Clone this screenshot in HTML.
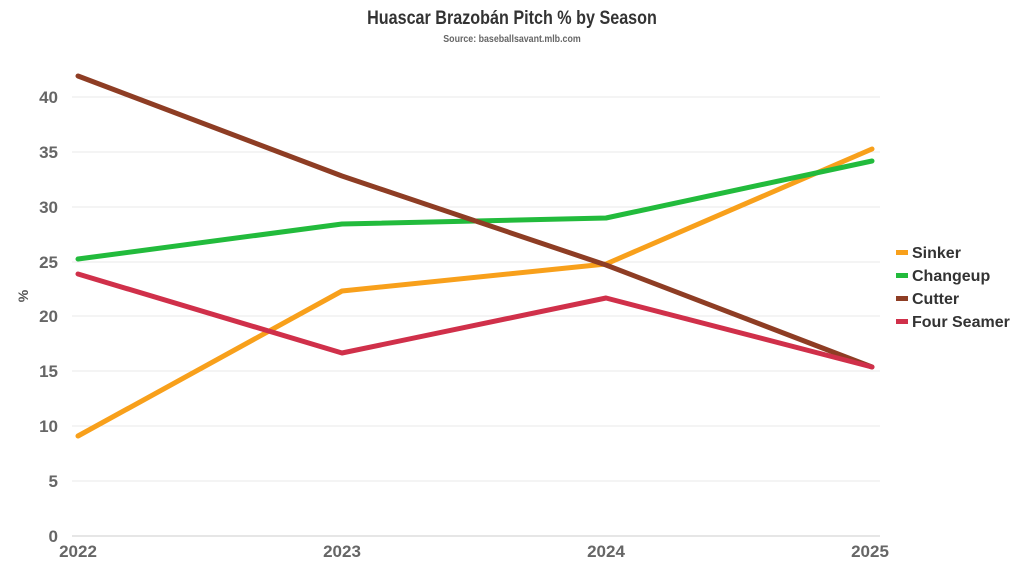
<!DOCTYPE html>
<html><head><meta charset="utf-8"><style>
body{margin:0;background:#fff;}
svg{display:block;font-family:"Liberation Sans",sans-serif;font-weight:bold;}
</style></head><body>
<svg width="1024" height="576" viewBox="0 0 1024 576">
<text x="512" y="24" text-anchor="middle" font-size="19" fill="#333" transform="translate(512,0) scale(0.85,1) translate(-512,0)">Huascar Brazobán Pitch % by Season</text>
<text x="512" y="42" text-anchor="middle" font-size="10.4" fill="#666" transform="translate(512,0) scale(0.85,1) translate(-512,0)">Source: baseballsavant.mlb.com</text>
<g stroke="#e8e8e8" stroke-width="1">
<line x1="72" x2="880" y1="97" y2="97"/><line x1="72" x2="880" y1="152" y2="152"/>
<line x1="72" x2="880" y1="207" y2="207"/><line x1="72" x2="880" y1="262" y2="262"/>
<line x1="72" x2="880" y1="316" y2="316"/><line x1="72" x2="880" y1="371" y2="371"/>
<line x1="72" x2="880" y1="426" y2="426"/><line x1="72" x2="880" y1="481" y2="481"/>
</g>
<line x1="72" x2="880" y1="536" y2="536" stroke="#ccc"/>
<g font-size="17" fill="#666" text-anchor="end">
<text x="58" y="103">40</text><text x="58" y="158">35</text><text x="58" y="213">30</text>
<text x="58" y="268">25</text><text x="58" y="322">20</text><text x="58" y="377">15</text>
<text x="58" y="432">10</text><text x="58" y="487">5</text><text x="58" y="542">0</text>
</g>
<text x="28" y="296" font-size="14" fill="#555" text-anchor="middle" transform="rotate(-90 28 296)">%</text>
<g font-size="17" fill="#666" text-anchor="middle">
<text x="78" y="557">2022</text><text x="342" y="557">2023</text><text x="606" y="557">2024</text><text x="870" y="557">2025</text>
</g>
<g fill="none" stroke-width="5" stroke-linejoin="round" stroke-linecap="round">
<polyline stroke="#f8a01b" points="78,436 342,291 606,264 872,149"/>
<polyline stroke="#22bb3c" points="78,259 342,224 606,218 872,161"/>
<polyline stroke="#8e3d24" points="78,76 342,176 606,265 872,367"/>
<polyline stroke="#d0304a" points="78,274 342,353 606,298 872,367"/>
</g>
<g font-size="16" fill="#333">
<rect x="896" y="250" width="12" height="5" fill="#f8a01b"/><text x="912" y="258">Sinker</text>
<rect x="896" y="273" width="12" height="5" fill="#22bb3c"/><text x="912" y="281">Changeup</text>
<rect x="896" y="296" width="12" height="5" fill="#8e3d24"/><text x="912" y="304">Cutter</text>
<rect x="896" y="319" width="12" height="5" fill="#d0304a"/><text x="912" y="327">Four Seamer</text>
</g>
</svg>
</body></html>
